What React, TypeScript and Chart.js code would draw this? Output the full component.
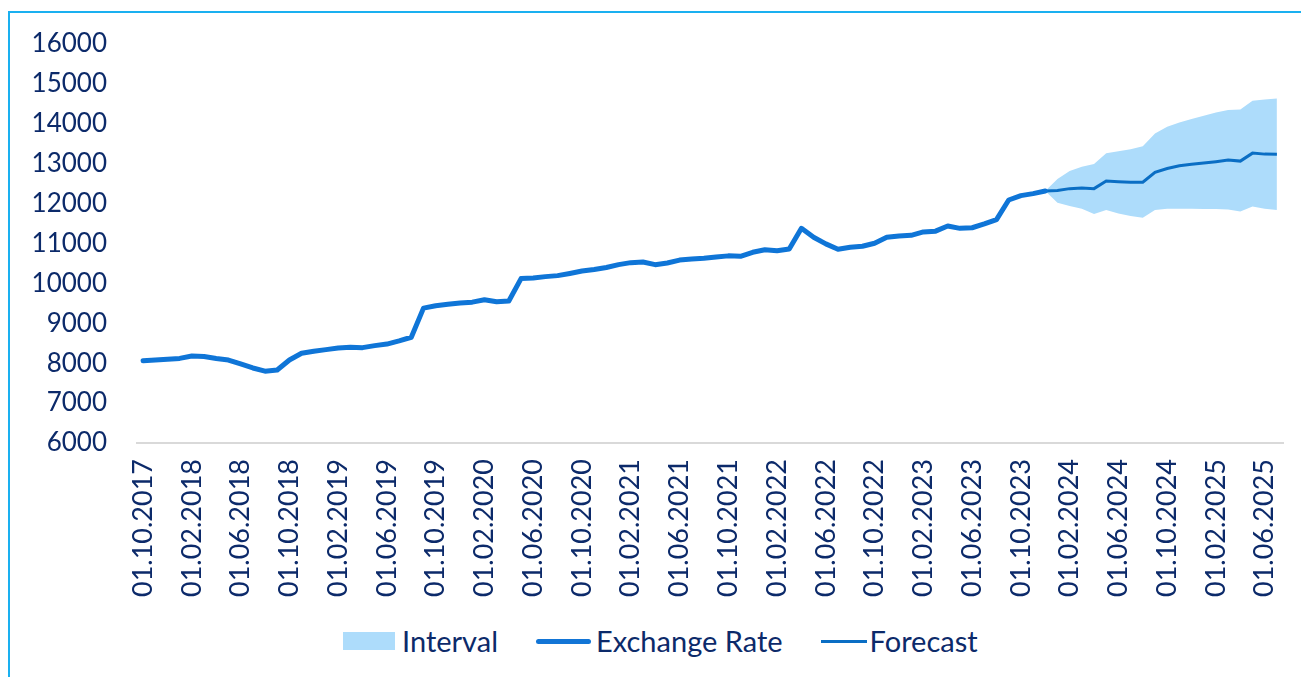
import React, { useEffect, useRef } from "react";
import { Chart, registerables } from "chart.js";

Chart.register(...registerables);

const dateLabels = [
  "01.10.2017", "01.11.2017", "01.12.2017",
  "01.01.2018", "01.02.2018", "01.03.2018", "01.04.2018", "01.05.2018", "01.06.2018",
  "01.07.2018", "01.08.2018", "01.09.2018", "01.10.2018", "01.11.2018", "01.12.2018",
  "01.01.2019", "01.02.2019", "01.03.2019", "01.04.2019", "01.05.2019", "01.06.2019",
  "01.07.2019", "01.08.2019", "01.09.2019", "01.10.2019", "01.11.2019", "01.12.2019",
  "01.01.2020", "01.02.2020", "01.03.2020", "01.04.2020", "01.05.2020", "01.06.2020",
  "01.07.2020", "01.08.2020", "01.09.2020", "01.10.2020", "01.11.2020", "01.12.2020",
  "01.01.2021", "01.02.2021", "01.03.2021", "01.04.2021", "01.05.2021", "01.06.2021",
  "01.07.2021", "01.08.2021", "01.09.2021", "01.10.2021", "01.11.2021", "01.12.2021",
  "01.01.2022", "01.02.2022", "01.03.2022", "01.04.2022", "01.05.2022", "01.06.2022",
  "01.07.2022", "01.08.2022", "01.09.2022", "01.10.2022", "01.11.2022", "01.12.2022",
  "01.01.2023", "01.02.2023", "01.03.2023", "01.04.2023", "01.05.2023", "01.06.2023",
  "01.07.2023", "01.08.2023", "01.09.2023", "01.10.2023", "01.11.2023", "01.12.2023",
  "01.01.2024", "01.02.2024", "01.03.2024", "01.04.2024", "01.05.2024", "01.06.2024",
  "01.07.2024", "01.08.2024", "01.09.2024", "01.10.2024", "01.11.2024", "01.12.2024",
  "01.01.2025", "01.02.2025", "01.03.2025", "01.04.2025", "01.05.2025", "01.06.2025",
  "01.07.2025",
];

// Historical exchange rate, 01.10.2017 .. 01.12.2023
const exchangeRate = [
  8060, 8080, 8100, 8120, 8180, 8170, 8120, 8080, 7980, 7880, 7800, 7830,
  8080, 8250, 8300, 8340, 8380, 8400, 8390, 8440, 8480, 8560, 8650, 9380,
  9440, 9475, 9510, 9530, 9590, 9540, 9560, 10120, 10135, 10170, 10195, 10250,
  10310, 10350, 10400, 10470, 10520, 10535, 10470, 10510, 10585, 10610, 10630, 10660,
  10690, 10680, 10780, 10845, 10820, 10860, 11380, 11155, 10990, 10855, 10905, 10930,
  11005, 11155, 11190, 11205, 11290, 11310, 11440, 11380, 11395, 11490, 11600, 12090,
  12200, 12250, 12315,
];

// Forecast, 01.12.2023 .. 01.07.2025
const forecast = [
  12315, 12330, 12375, 12390, 12375, 12565, 12550, 12535, 12535, 12785,
  12880, 12950, 12985, 13015, 13050, 13090, 13065, 13265, 13240, 13235,
];

const intervalUpper = [
  12315, 12615, 12815, 12925, 12990, 13260, 13310, 13360, 13435, 13760,
  13925, 14035, 14120, 14200, 14285, 14345, 14360, 14575, 14610, 14635,
];

const intervalLower = [
  12315, 12020, 11940, 11870, 11740, 11840, 11755, 11690, 11645, 11840,
  11870, 11870, 11870, 11865, 11865, 11855, 11800, 11925, 11870, 11840,
];

const TEXT_COLOR = "#0c2a6a";
const FONT = "Lato";

export default function App() {
  const ref = useRef<HTMLCanvasElement>(null);

  useEffect(() => {
    document.documentElement.style.overflow = "hidden";
    const pad: (number | null)[] = Array(exchangeRate.length - 1).fill(null);
    const chart = new Chart(ref.current as HTMLCanvasElement, {
      type: "line",
      data: {
        labels: dateLabels,
        datasets: [
          {
            label: "IntervalLower",
            data: pad.concat(intervalLower),
            borderWidth: 0,
            borderColor: "rgba(0,0,0,0)",
            backgroundColor: "rgba(0,0,0,0)",
            pointRadius: 0,
            fill: false,
            order: 3,
          },
          {
            label: "Interval",
            data: pad.concat(intervalUpper),
            borderWidth: 0,
            borderColor: "rgba(0,0,0,0)",
            backgroundColor: "#addcfb",
            pointRadius: 0,
            fill: "-1",
            order: 2,
          },
          {
            label: "Exchange Rate",
            data: exchangeRate,
            borderColor: "#0f75d7",
            borderWidth: 5,
            pointRadius: 0,
            fill: false,
            borderJoinStyle: "round",
            borderCapStyle: "round",
            order: 0,
          },
          {
            label: "Forecast",
            data: pad.concat(forecast),
            borderColor: "#0a6ec4",
            borderWidth: 3,
            pointRadius: 0,
            fill: false,
            order: 1,
          },
        ],
      },
      options: {
        responsive: true,
        maintainAspectRatio: false,
        animation: false,
        layout: { padding: { top: 31, right: 10, left: 0, bottom: 0 } },
        plugins: {
          legend: { display: false },
          tooltip: { enabled: false },
        },
        scales: {
          x: {
            offset: true,
            grid: { display: false, drawTicks: true, tickLength: 16 },
            border: { display: true, color: "#d9d9d9", width: 2 },
            ticks: {
              autoSkip: false,
              maxRotation: 90,
              minRotation: 90,
              padding: 0,
              color: TEXT_COLOR,
              font: { size: 27, family: FONT },
              callback: (_v: any, i: number) => (i % 4 === 0 ? dateLabels[i] : ""),
            },
            afterFit: (s: any) => {
              s.height = 170;
              s.paddingLeft = 0;
              s.paddingRight = 0;
            },
          },
          y: {
            min: 6000,
            max: 16000,
            grid: { display: false, drawTicks: true, tickLength: 30 },
            border: { display: false },
            ticks: {
              stepSize: 1000,
              padding: 0,
              color: TEXT_COLOR,
              font: { size: 26, family: FONT },
              callback: (v: any) => String(v),
            },
            afterFit: (s: any) => {
              s.width = 127;
            },
          },
        },
      },
    });
    return () => chart.destroy();
  }, []);

  const legendText: React.CSSProperties = {
    fontFamily: FONT,
    fontSize: 29,
    color: TEXT_COLOR,
    lineHeight: "36px",
    whiteSpace: "nowrap",
  };

  return (
    <div
      style={{
        position: "absolute",
        left: 8,
        top: 11,
        borderTop: "2px solid #1ab0f0",
        borderLeft: "2px solid #1ab0f0",
        width: 1291,
        height: 680,
        overflow: "hidden",
      }}
    >
      <div style={{ position: "absolute", left: 0, top: 0, width: 1283, height: 600 }}>
        <canvas ref={ref} />
      </div>
      <div
        style={{
          position: "absolute",
          left: 333,
          top: 610,
          height: 36,
          display: "flex",
          alignItems: "center",
        }}
      >
        <span style={{ display: "inline-block", width: 52, height: 18, background: "#addcfb", marginRight: 7 }} />
        <span style={legendText}>Interval</span>
        <span
          style={{
            display: "inline-block",
            width: 55,
            height: 5,
            borderRadius: 3,
            background: "#1275d6",
            marginLeft: 38,
            marginRight: 5,
          }}
        />
        <span style={legendText}>Exchange Rate</span>
        <span
          style={{
            display: "inline-block",
            width: 46,
            height: 3,
            background: "#0a6ec4",
            marginLeft: 38,
            marginRight: 3,
          }}
        />
        <span style={legendText}>Forecast</span>
      </div>
    </div>
  );
}
